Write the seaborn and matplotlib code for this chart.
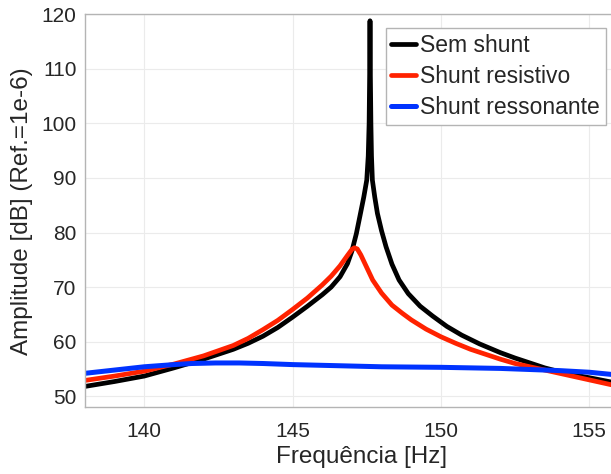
import matplotlib
matplotlib.use("Agg")
import matplotlib.pyplot as plt
import seaborn as sns

# values (Hz, dB)
freq_sem = [138.0, 139.0, 140.0, 141.0, 142.0, 143.0, 143.5, 144.0, 144.5, 145.0, 145.5,
            146.0, 146.3, 146.6, 146.85, 147.0, 147.15, 147.27, 147.4, 147.5, 147.55,
            147.58, 147.6, 147.61, 147.62, 147.64, 147.66, 147.69, 147.77, 147.86,
            148.0, 148.15, 148.35, 148.59, 148.9, 149.3, 149.72, 150.2, 150.7, 151.3,
            152.0, 152.5, 153.0, 153.5, 154.0, 154.5, 155.0, 155.75, 156.64]
amp_sem = [51.8, 52.7, 53.7, 55.2, 56.8, 58.6, 59.7, 61.0, 62.6, 64.5, 66.5,
           68.6, 70.0, 71.9, 74.3, 76.6, 79.8, 83.0, 86.5, 89.6, 94.0,
           100.0, 110.0, 118.8, 110.0, 100.0, 94.0, 89.6, 86.5, 83.5,
           80.3, 77.4, 74.2, 71.3, 68.8, 66.5, 64.7, 62.8, 61.2, 59.6,
           58.0, 57.0, 56.1, 55.2, 54.5, 53.9, 53.4, 52.6, 51.8]

freq_res = [138.0, 139.0, 140.0, 141.0, 142.0, 143.0, 143.5, 144.0, 144.5, 145.0,
            145.5, 146.0, 146.3, 146.6, 146.85, 147.0, 147.08, 147.18, 147.3, 147.5,
            147.7, 148.0, 148.35, 148.7, 149.0, 149.5, 150.0, 150.5, 151.0, 151.5,
            152.0, 152.5, 153.0, 153.5, 154.0, 154.5, 155.0, 155.75, 156.64]
amp_res = [52.9, 53.7, 54.6, 55.9, 57.4, 59.3, 60.6, 62.2, 63.9, 65.9,
           68.0, 70.4, 72.0, 73.9, 75.8, 76.9, 77.2, 77.0, 75.9, 73.6,
           71.3, 68.9, 66.7, 65.2, 64.0, 62.3, 60.9, 59.7, 58.6, 57.7,
           56.8, 56.0, 55.4, 54.8, 54.2, 53.6, 53.0, 52.1, 51.2]

freq_ress = [138.0, 139.0, 140.0, 141.0, 141.6, 142.4, 143.2, 144.0, 145.0, 146.5,
             148.0, 150.0, 152.0, 153.0, 154.0, 155.0, 155.75, 156.64]
amp_ress = [54.2, 54.8, 55.4, 55.8, 56.0, 56.1, 56.1, 56.0, 55.8, 55.6,
            55.4, 55.3, 55.1, 54.9, 54.7, 54.4, 54.0, 53.5]

sns.set_style("whitegrid")
plt.rcParams['font.family'] = ['Liberation Sans', 'DejaVu Sans']

fig = plt.figure(figsize=(6.11, 4.74), dpi=100)
# the axes run past the right edge of the picture, as in the reference
ax = fig.add_axes([0.139, 0.141, 0.905, 0.829])

sns.lineplot(x=freq_sem, y=amp_sem, color='black', lw=3.4, label='Sem shunt', ax=ax, estimator=None)
sns.lineplot(x=freq_res, y=amp_res, color='#ff2200', lw=3.4, label='Shunt resistivo', ax=ax, estimator=None)
sns.lineplot(x=freq_ress, y=amp_ress, color='#0033ff', lw=3.6, label='Shunt ressonante', ax=ax, estimator=None)

ax.set_xlim(138, 156.64)
ax.set_ylim(48, 120)
ax.set_xticks([140, 145, 150, 155])
ax.set_yticks(range(50, 121, 10))
ax.grid(True, color='#ebebeb', lw=0.8)
for s in ['left', 'bottom', 'top', 'right']:
    ax.spines[s].set_color('#b4b4b4')
    ax.spines[s].set_linewidth(1.0)
ax.tick_params(axis='both', direction='in', length=4, color='#b4b4b4',
               labelsize=15, labelcolor='#262626', pad=6)
ax.tick_params(axis='x', pad=11)
ax.set_xlabel('Frequência [Hz]', fontsize=17.5, color='#262626', labelpad=3)
ax.set_ylabel('Amplitude [dB] (Ref.=1e-6)', fontsize=17.5, color='#262626', labelpad=6)

leg = ax.legend(loc='upper right', bbox_to_anchor=(0.942, 0.964), fontsize=16.5,
                handlelength=1.1, handletextpad=0.17, borderpad=0.25, labelspacing=0.35,
                fancybox=False, framealpha=1, edgecolor='#b4b4b4', borderaxespad=0)
leg.get_frame().set_linewidth(1.0)
for t in leg.get_texts():
    t.set_color('#262626')

fig.savefig('out.png', dpi=100)
